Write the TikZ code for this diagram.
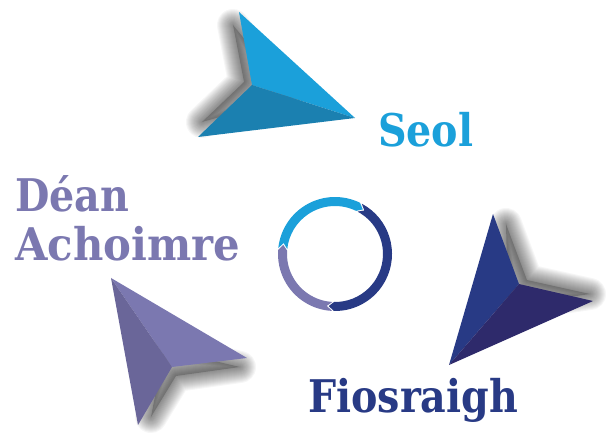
\documentclass[tikz,border=0pt]{standalone}
\usepackage{fontspec}
\newfontfamily\slab{DejaVu Serif}
\usetikzlibrary{arrows.meta}
\definecolor{kek}{HTML}{1BA0DA}
\definecolor{kekS}{HTML}{1B80B0}
\definecolor{sotet}{HTML}{283A85}
\definecolor{sotetS}{HTML}{2E2A6B}
\definecolor{lila}{HTML}{7B78B0}
\definecolor{lilaS}{HTML}{6A6699}
\tikzset{
  arny/.style={draw=black,opacity=0.035,line join=round},
  felirat/.style={anchor=base west,inner sep=0pt,xscale=0.88,transform shape,
    font=\slab\bfseries\fontsize{45}{48}\selectfont},
}
% ring segment: start angle, end angle (clockwise)
\newcommand\ivdarab[3]{%
  \fill[#3] (#1:57) arc[start angle=#1,end angle=#2,radius=57]
    -- (#2-6:52.5) -- (#2:48) arc[start angle=#2,end angle=#1,radius=48]
    -- (#1-6:52.5) -- cycle;}
% soft shadow round the notch
\newcommand\arnyek[4]{%
  \foreach \w in {2,4,...,32} {\draw[arny,line width=\w pt] #1 -- #2 -- #3 -- #4 -- cycle;}
  \fill[black,opacity=0.2] #1 -- #2 -- #3 -- #4 -- cycle;}
\begin{document}
\begin{tikzpicture}[x=1pt,y=-1pt]
  \useasboundingbox (0,0) rectangle (608,435);
  % arnyekok
  \begin{scope}[shift={(-8,-3)}]
    \arnyek{(241,28)}{(252,85)}{(210,125)}{(300,100)}
  \end{scope}
  \begin{scope}[shift={(8,-4)}]
    \arnyek{(498,228)}{(519,284)}{(582,298)}{(500,310)}
  \end{scope}
  \begin{scope}[shift={(4,9)}]
    \arnyek{(236,358)}{(172,367)}{(147,408)}{(160,340)}
  \end{scope}
  % Seol
  \fill[kek] (239,12) -- (252,85) -- (355,118) -- cycle;
  \fill[kekS] (252,85) -- (355,118) -- (198,137) -- cycle;
  % Fiosraigh
  \fill[sotet] (493,214) -- (519,284) -- (449,365) -- cycle;
  \fill[sotetS] (519,284) -- (593,301) -- (449,365) -- cycle;
  % Dean Achoimre
  \fill[lila] (111,278) -- (247,358) -- (172,367) -- cycle;
  \fill[lilaS] (111,278) -- (172,367) -- (138,425) -- cycle;
  % ciklus
  \begin{scope}[shift={(335,254)},y=1pt]
    \ivdarab{174}{64}{kek}
    \ivdarab{62}{-91}{sotet}
    \ivdarab{-93}{-184}{lila}
  \end{scope}
  \node[felirat,text=kek] (seol) at (378,147) {Seol};
  \node[felirat,text=sotet] (fios) at (308,413) {Fiosraigh};
  \node[felirat,text=lila] (dean) at (15,212) {Déan};
  \node[felirat,text=lila,xscale=1.055] (acho) at (15,261) {Achoimre};
\end{tikzpicture}
\end{document}
